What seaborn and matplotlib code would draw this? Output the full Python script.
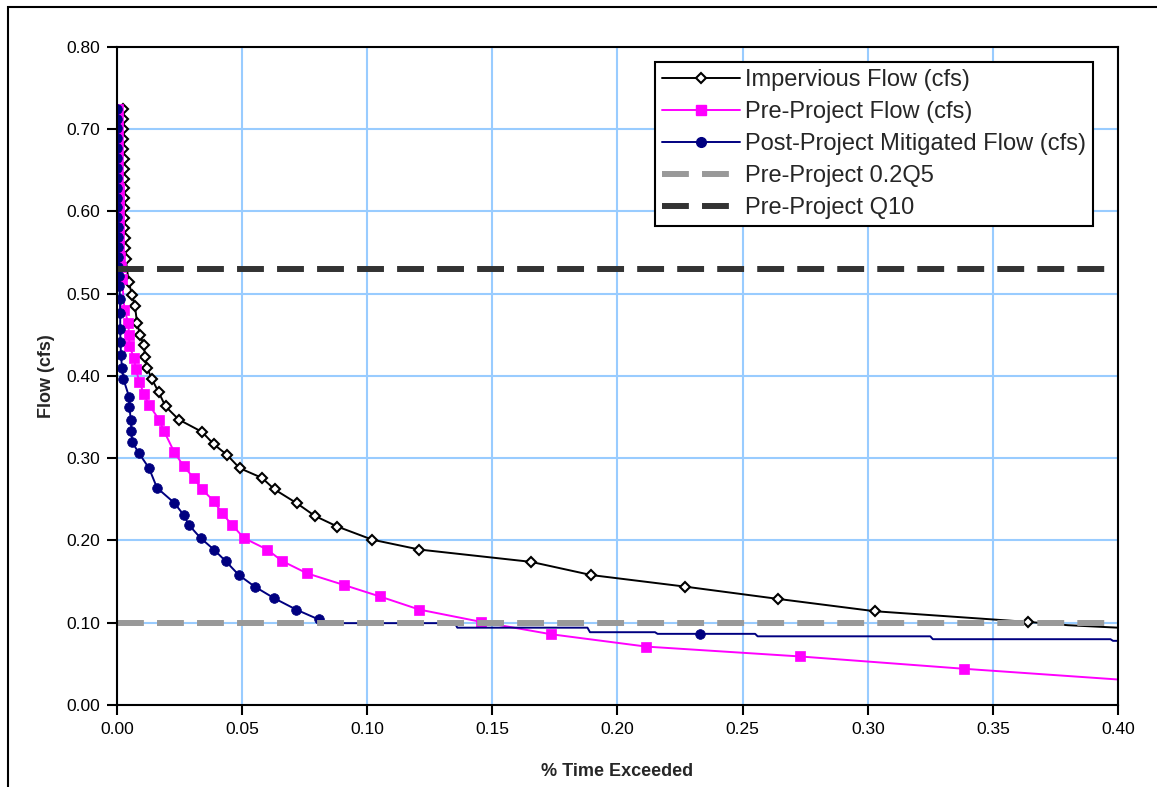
import matplotlib
matplotlib.use("Agg")
import matplotlib.pyplot as plt
from matplotlib.lines import Line2D
from matplotlib.patches import Rectangle
import numpy as np
import seaborn as sns

# Flow duration curves: x = % time exceeded, y = flow (cfs)
# marker points
imp_x = [0.0024, 0.0025, 0.0025, 0.0026, 0.0026, 0.0027, 0.0027, 0.0028, 0.0028, 0.0029,
         0.0029, 0.0030, 0.0030, 0.0031, 0.0032, 0.0035, 0.0047, 0.0060, 0.0072, 0.0080,
         0.0092, 0.0107, 0.0113, 0.0120, 0.0140, 0.0167, 0.0194, 0.0247, 0.0340, 0.0387,
         0.0440, 0.0490, 0.0580, 0.0630, 0.0720, 0.0790, 0.0880, 0.1020, 0.1208, 0.1655,
         0.1895, 0.2268, 0.2641, 0.3028, 0.3641]
imp_y = [0.724, 0.712, 0.700, 0.688, 0.676, 0.664, 0.652, 0.640, 0.628, 0.616,
         0.604, 0.592, 0.580, 0.568, 0.556, 0.542, 0.514, 0.499, 0.485, 0.465,
         0.450, 0.438, 0.423, 0.410, 0.396, 0.380, 0.363, 0.347, 0.332, 0.317,
         0.304, 0.288, 0.276, 0.262, 0.245, 0.230, 0.217, 0.201, 0.189, 0.174,
         0.158, 0.144, 0.129, 0.114, 0.101]
# line-only tail
imp_tail_x = [0.3800, 0.4000]
imp_tail_y = [0.097, 0.094]

pre_x = [0.0004, 0.0004, 0.0005, 0.0005, 0.0005, 0.0006, 0.0006, 0.0006, 0.0007, 0.0007,
         0.0007, 0.0008, 0.0008, 0.0009, 0.0010, 0.0012, 0.0016, 0.0020, 0.0030, 0.0045,
         0.0048, 0.0050, 0.0068, 0.0075, 0.0090, 0.0107, 0.0128, 0.0168, 0.0188, 0.0228,
         0.0267, 0.0307, 0.0340, 0.0387, 0.0420, 0.0460, 0.0507, 0.0600, 0.0660, 0.0760,
         0.0906, 0.1050, 0.1208, 0.1456, 0.1735, 0.2115, 0.2730, 0.3386]
pre_y = [0.725, 0.713, 0.701, 0.689, 0.677, 0.665, 0.653, 0.641, 0.629, 0.617,
         0.605, 0.593, 0.581, 0.569, 0.557, 0.545, 0.532, 0.518, 0.480, 0.465,
         0.450, 0.436, 0.422, 0.408, 0.393, 0.378, 0.365, 0.347, 0.333, 0.308,
         0.290, 0.276, 0.262, 0.248, 0.233, 0.219, 0.203, 0.189, 0.175, 0.160,
         0.146, 0.132, 0.116, 0.101, 0.086, 0.071, 0.059, 0.044]
pre_tail_x = [0.4000]
pre_tail_y = [0.031]

post_x = [0.0000, 0.0002, 0.0002, 0.0002, 0.0002, 0.0002, 0.0002, 0.0002, 0.0002, 0.0002,
          0.0002, 0.0002, 0.0003, 0.0004, 0.0004, 0.0005, 0.0006, 0.0008, 0.0010, 0.0012,
          0.0013, 0.0013, 0.0014, 0.0016, 0.0020, 0.0026, 0.0048, 0.0050, 0.0055, 0.0058,
          0.0060, 0.0088, 0.0128, 0.0160, 0.0228, 0.0267, 0.0287, 0.0334, 0.0387, 0.0434,
          0.0487, 0.0550, 0.0627, 0.0716, 0.0806, 0.2328]
post_y = [0.725, 0.713, 0.701, 0.689, 0.677, 0.665, 0.653, 0.641, 0.629, 0.617,
          0.605, 0.593, 0.581, 0.569, 0.557, 0.545, 0.533, 0.521, 0.509, 0.493,
          0.477, 0.457, 0.441, 0.426, 0.410, 0.396, 0.375, 0.362, 0.347, 0.333,
          0.320, 0.306, 0.288, 0.264, 0.246, 0.231, 0.219, 0.203, 0.189, 0.175,
          0.158, 0.144, 0.130, 0.116, 0.104, 0.086]
post_tail_x = [0.0860, 0.1350, 0.1360, 0.1880, 0.1890, 0.2150, 0.2160, 0.2550, 0.2560,
               0.3250, 0.3260, 0.3970, 0.3980, 0.4000]
post_tail_y = [0.0995, 0.0995, 0.0940, 0.0940, 0.0885, 0.0885, 0.0865, 0.0865, 0.0835,
               0.0835, 0.0800, 0.0800, 0.0780, 0.0780]

q5_level = 0.10   # Pre-Project 0.2Q5
q10_level = 0.53  # Pre-Project Q10
x_range = [0.0, 0.40]

x_ticks = [0.00, 0.05, 0.10, 0.15, 0.20, 0.25, 0.30, 0.35, 0.40]
y_ticks = [0.00, 0.10, 0.20, 0.30, 0.40, 0.50, 0.60, 0.70, 0.80]

labels = ['Impervious Flow (cfs)', 'Pre-Project Flow (cfs)',
          'Post-Project Mitigated Flow (cfs)', 'Pre-Project 0.2Q5', 'Pre-Project Q10']

sns.set_style("white")
plt.rcParams['font.family'] = ['Liberation Sans', 'DejaVu Sans']

fig = plt.figure(figsize=(11.57, 7.87), dpi=100)
ax = fig.add_axes([0.1011, 0.1042, 0.8652, 0.8361])

magenta = '#ff00ff'
navy = '#000080'
q5_color = '#999999'
q10_color = '#333333'
dash = (0, (4.5, 2.2))
legend_dash = (0, (4.5, 2.2, 4.5, 8))

# Impervious
sns.lineplot(x=imp_x + imp_tail_x, y=imp_y + imp_tail_y, sort=False, estimator=None,
             color='black', lw=1.4, ax=ax)
sns.lineplot(x=imp_x, y=imp_y, sort=False, estimator=None, linestyle='', marker='D',
             markersize=5, markerfacecolor='white', markeredgecolor='black',
             markeredgewidth=1.5, ax=ax)

# Pre-project
sns.lineplot(x=pre_x + pre_tail_x, y=pre_y + pre_tail_y, sort=False, estimator=None,
             color=magenta, lw=1.4, ax=ax)
sns.lineplot(x=pre_x, y=pre_y, sort=False, estimator=None, linestyle='', marker='s',
             markersize=6.5, markerfacecolor=magenta, markeredgecolor=magenta,
             markeredgewidth=0.5, ax=ax)

# Post-project mitigated
sns.lineplot(x=post_x[:-1] + post_tail_x, y=post_y[:-1] + post_tail_y, sort=False,
             estimator=None, color=navy, lw=1.4, ax=ax)
sns.lineplot(x=post_x, y=post_y, sort=False, estimator=None, linestyle='', marker='o',
             markersize=7, markerfacecolor=navy, markeredgecolor=navy,
             markeredgewidth=0.5, ax=ax)

# threshold lines
sns.lineplot(x=x_range, y=[q5_level, q5_level], color=q5_color, lw=4.3,
             linestyle=dash, ax=ax)
sns.lineplot(x=x_range, y=[q10_level, q10_level], color=q10_color, lw=4.3,
             linestyle=dash, ax=ax)

ax.set_xlim(x_range)
ax.set_ylim(0, 0.80)
ax.set_xticks(x_ticks)
ax.set_yticks(y_ticks)
ax.set_xticklabels([f'{v:.2f}' for v in x_ticks])
ax.set_yticklabels([f'{v:.2f}' for v in y_ticks])
ax.grid(True, color='#99ccff', lw=1.5)
ax.set_axisbelow(True)
for s in ax.spines.values():
    s.set_color('black')
    s.set_linewidth(1.5)
ax.tick_params(bottom=True, left=True, direction='out', length=7, width=1.5,
               labelsize=12.5, colors='black', pad=5)

ax.set_xlabel('% Time Exceeded', fontsize=13, fontweight='bold', labelpad=19)
ax.set_ylabel('Flow (cfs)', fontsize=13, fontweight='bold', labelpad=8)

handles = [
    Line2D([], [], color='black', lw=1.4, marker='D', markersize=5,
           markerfacecolor='white', markeredgecolor='black', markeredgewidth=1.5),
    Line2D([], [], color=magenta, lw=1.4, marker='s', markersize=6.5,
           markerfacecolor=magenta, markeredgecolor=magenta),
    Line2D([], [], color=navy, lw=1.4, marker='o', markersize=7,
           markerfacecolor=navy, markeredgecolor=navy),
    Line2D([], [], color=q5_color, lw=4.3, linestyle=legend_dash),
    Line2D([], [], color=q10_color, lw=4.3, linestyle=legend_dash),
]
leg = ax.legend(handles, labels, loc='upper right', bbox_to_anchor=(0.975, 0.977),
                fontsize=17, frameon=True, fancybox=False, edgecolor='black',
                framealpha=1, handlelength=3.3, handletextpad=0.22, labelspacing=0.42,
                borderpad=0.3, borderaxespad=0)
leg.get_frame().set_linewidth(1.5)

# outer chart border
fig.add_artist(Rectangle((8 / 1157, -0.2), 2, 1 - 7 / 787 + 0.2, transform=fig.transFigure,
                         fill=False, ec='black', lw=1.5))

fig.savefig('out.png', dpi=100)
